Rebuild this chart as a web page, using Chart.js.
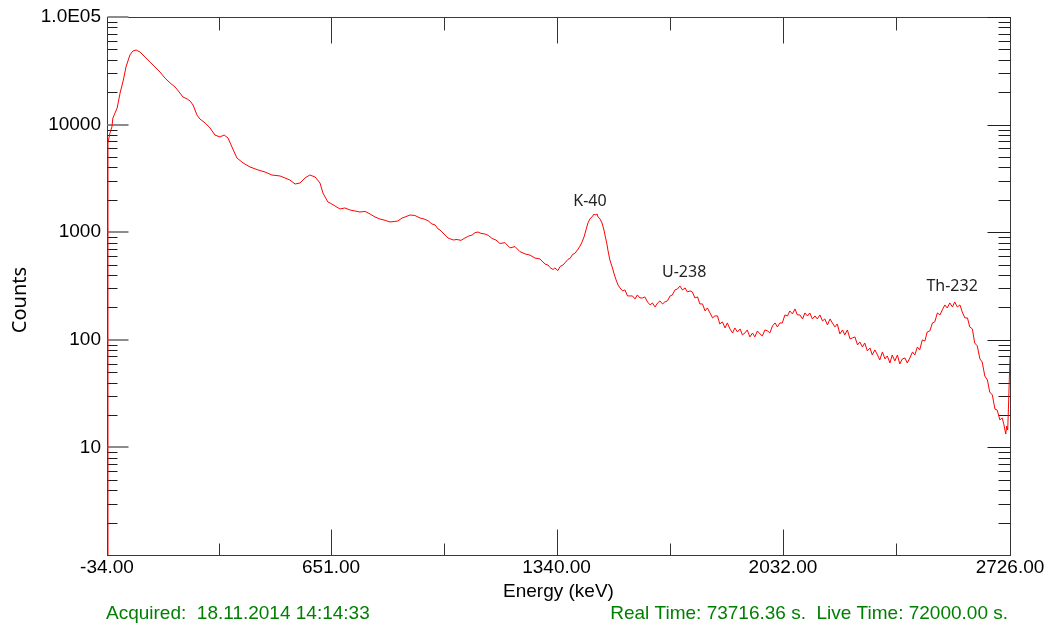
<!DOCTYPE html>
<html>
<head>
<meta charset="utf-8">
<title>Gamma spectrum</title>
<script src="https://cdn.jsdelivr.net/npm/chart.js@4.4.1/dist/chart.umd.min.js"></script>
<style>
  html, body { margin: 0; padding: 0; background: #ffffff; }
  #spectrum { display: block; }
</style>
</head>
<body>
<canvas id="spectrum" width="1055" height="631"></canvas>
<script>
// ===============================
// Spectrum data
// ===============================
const energyKeV = [
  // low energy rise and Compton continuum
  -32, -31, -25, -19, -16, -3, 6, 16, 24, 36,
  45, 55, 67, 82, 97, 113, 128, 143, 159, 174,
  189, 198, 211, 220, 229, 241, 250, 266, 281, 296,
  311, 324, 336, 348, 363, 382, 403, 428, 449, 470,
  495, 525, 541, 556, 571, 586, 602, 617, 626, 641,
  // 650 - 1530 keV (K-40 region)
  648, 663, 678, 693, 709, 724, 739, 755, 770, 785,
  800, 816, 831, 846, 855, 868, 877, 892, 907, 923,
  935, 947, 959, 969, 978, 984, 993, 999, 1008, 1014,
  1024, 1036, 1048, 1060, 1072, 1082, 1091, 1100, 1109, 1121,
  1131, 1143, 1155, 1167, 1182, 1198, 1213, 1228, 1244, 1259,
  1274, 1289, 1305, 1314, 1320, 1329, 1335, 1344, 1351, 1360,
  1366, 1375, 1381, 1390, 1396, 1406, 1412, 1418, 1424, 1430,
  1436, 1442, 1448, 1455, 1458, 1464, 1467, 1473, 1479, 1485,
  1488, 1494, 1497, 1503, 1510, 1516, 1522, 1528,
  // 1530 - 2726 keV (U-238 / Th-232 region, noisy)
  1534, 1542, 1549, 1557, 1565, 1572, 1580, 1587, 1595, 1603,
  1610, 1618, 1626, 1633, 1641, 1649, 1656, 1664, 1671, 1679,
  1687, 1694, 1702, 1710, 1717, 1725, 1733, 1740, 1748, 1755,
  1763, 1771, 1778, 1786, 1794, 1801, 1809, 1817, 1824, 1832,
  1839, 1847, 1855, 1862, 1870, 1878, 1885, 1893, 1901, 1908,
  1916, 1923, 1931, 1939, 1946, 1954, 1962, 1969, 1977, 1985,
  1992, 2000, 2008, 2015, 2023, 2030, 2038, 2046, 2053, 2061,
  2069, 2076, 2084, 2092, 2099, 2107, 2114, 2122, 2130, 2137,
  2145, 2153, 2160, 2168, 2176, 2183, 2191, 2198, 2206, 2214,
  2221, 2229, 2237, 2244, 2252, 2260, 2267, 2275, 2282, 2290,
  2298, 2305, 2313, 2321, 2328, 2336, 2344, 2351, 2359, 2366,
  2374, 2382, 2389, 2397, 2405, 2412, 2420, 2428, 2435, 2443,
  2450, 2458, 2466, 2473, 2481, 2489, 2496, 2504, 2512, 2519,
  2527, 2534, 2542, 2550, 2557, 2565, 2573, 2580, 2588, 2596,
  2603, 2611, 2618, 2626, 2634, 2641, 2649, 2657, 2664, 2672,
  2680, 2687, 2695, 2702, 2707, 2713, 2716, 2719, 2722, 2726
];

const counts = [
  0.5, 6740, 8360, 9510, 11510, 14260, 19670, 25960, 34300, 44350,
  48300, 49350, 47300, 42500, 38170, 34300, 30800, 27100, 24360, 22350,
  19670, 18060, 17300, 16570, 15210, 12270, 11270, 10350, 9300, 8000,
  7670, 8000, 7500, 6190, 4895, 4400, 4040, 3785, 3625, 3400,
  3330, 3055, 2805, 2865, 3190, 3400, 3260, 2865, 2315, 1910,

  1867, 1752, 1643, 1680, 1608, 1574, 1540, 1560, 1476, 1385,
  1326, 1290, 1245, 1260, 1271, 1355, 1385, 1445, 1430, 1355,
  1326, 1280, 1194, 1167, 1071, 1048, 983, 942, 883, 870,
  847, 855, 840, 883, 922, 942, 990, 1004, 975, 962,
  935, 875, 845, 785, 800, 715, 735, 660, 628, 612,
  575, 565, 505, 495, 470, 450, 465, 440, 480, 496,
  520, 560, 570, 625, 635, 698, 745, 811, 902, 1048,
  1218, 1326, 1385, 1476, 1445, 1476, 1385, 1326, 1218, 1048,
  942, 777, 683, 552, 475, 409, 360, 323.5,

  303.4, 284.5, 290.6, 255.6, 255.6, 255.6, 239.7, 261.2, 244.9, 244.9,
  250.2, 224.8, 210.9, 220.1, 202.0, 220.1, 229.7, 215.4, 224.8, 229.7,
  255.6, 261.2, 290.6, 296.9, 316.6, 290.6, 303.4, 278.5, 284.5, 278.5,
  244.9, 250.2, 215.4, 215.4, 185.4, 197.7, 177.7, 159.7, 166.6, 166.6,
  140.4, 146.6, 128.9, 143.5, 126.2, 115.8, 128.9, 118.3, 126.2, 111.0,
  115.8, 123.5, 106.3, 115.8, 106.3, 120.9, 113.4, 108.6, 123.5, 120.9,
  115.8, 134.5, 143.5, 131.7, 143.5, 143.5, 170.2, 166.6, 185.4, 173.9,
  193.6, 170.2, 170.2, 156.3, 177.7, 166.6, 177.7, 156.3, 166.6, 156.3,
  170.2, 149.7, 156.3, 137.5, 156.3, 143.5, 131.7, 140.4, 113.4, 123.5,
  111.0, 123.5, 101.9, 104.1, 106.3, 89.6, 95.5, 85.8, 93.5, 78.8,
  84.0, 72.3, 80.5, 72.3, 65.0, 77.1, 66.4, 70.8, 60.9, 72.3,
  63.6, 72.3, 59.6, 66.4, 67.8, 60.9, 67.8, 77.1, 72.3, 85.8,
  80.5, 99.7, 97.6, 118.3, 120.9, 143.5, 146.6, 177.7, 170.2, 189.5,
  210.9, 197.7, 220.1, 202.0, 224.8, 202.0, 210.9, 181.5, 159.7, 159.7,
  131.7, 126.2, 93.5, 87.7, 66.4, 62.2, 46.1, 42.3, 32.7, 30.7,
  22.7, 22.2, 18.0, 18.8, 16.5, 13.3, 15.8, 14.5, 27.6, 69.3
];

// Axis ticks
const xTickValues = [-34, 651, 1340, 2032, 2726];
const xMinorTickValues = [308, 996, 1686, 2379];
const yTickValues = [10, 100, 1000, 10000, 100000];
const yTickLabels = ["10", "100", "1000", "10000", "1.0E05"];
const yDecades = [1, 10, 100, 1000, 10000];

// Peak annotations (label position in data units)
const peakNames = ["K-40", "U-238", "Th-232"];
const peakLabelEnergies = [1442, 1730, 2549];
const peakLabelCounts = [1950, 427, 310];

// Footer texts
const acquiredText = "Acquired:  18.11.2014 14:14:33";
const timeText = "Real Time: 73716.36 s.  Live Time: 72000.00 s.";

const TICK_FONT = "'Liberation Sans', Arial, sans-serif";

// -------------------------------
// Frame with inward tick marks
// -------------------------------
const axisFrame = {
  id: "axisFrame",
  beforeDatasetsDraw(chart) {
    const { ctx, chartArea: a, scales: { x, y } } = chart;
    const left = Math.round(a.left) + 0.5;
    const right = Math.round(a.right) + 0.5;
    const top = Math.round(a.top) + 0.5;
    const bottom = Math.round(a.bottom) + 0.5;

    ctx.save();
    ctx.lineWidth = 1;
    ctx.strokeStyle = "#3a3a3a";
    ctx.strokeRect(left, top, right - left, bottom - top);

    const hLine = (x0, x1, py, color, width) => {
      ctx.beginPath();
      ctx.strokeStyle = color;
      ctx.lineWidth = width;
      ctx.moveTo(x0, py);
      ctx.lineTo(x1, py);
      ctx.stroke();
    };
    const vLine = (px, y0, y1, color) => {
      ctx.beginPath();
      ctx.strokeStyle = color;
      ctx.lineWidth = 1;
      ctx.moveTo(px, y0);
      ctx.lineTo(px, y1);
      ctx.stroke();
    };

    // y minor ticks (2..9 of each decade)
    yDecades.forEach(d => {
      for (let k = 2; k <= 9; k++) {
        const py = Math.round(y.getPixelForValue(d * k)) + 0.5;
        hLine(left, left + 10, py, "#1e1e1e", 1);
        hLine(right - 12, right, py, "#1e1e1e", 1);
      }
    });
    // y major ticks
    yTickValues.forEach(v => {
      const py = Math.round(y.getPixelForValue(v));
      hLine(left, left + 21, py, "#8c8c8c", 2);
      hLine(right - 23, right, py + 0.5, "#1e1e1e", 1);
    });

    // x ticks (bottom and top)
    xTickValues.forEach(v => {
      const px = Math.round(x.getPixelForValue(v)) + 0.5;
      vLine(px, bottom, bottom - 26, "#333333");
      vLine(px, top, top + 26, "#333333");
    });
    xMinorTickValues.forEach(v => {
      const px = Math.round(x.getPixelForValue(v)) + 0.5;
      vLine(px, bottom, bottom - 12, "#333333");
      vLine(px, top, top + 13, "#333333");
    });
    ctx.restore();
  }
};

// -------------------------------
// Peak labels, axis titles, footer
// -------------------------------
const textLayer = {
  id: "textLayer",
  afterDraw(chart) {
    const { ctx, chartArea: a, scales: { x, y } } = chart;
    ctx.save();

    // peak names
    ctx.font = "16px 'Noto Sans', 'Open Sans', sans-serif";
    ctx.fillStyle = "#222222";
    ctx.textAlign = "center";
    ctx.textBaseline = "middle";
    peakNames.forEach((name, i) => {
      ctx.fillText(name, x.getPixelForValue(peakLabelEnergies[i]), y.getPixelForValue(peakLabelCounts[i]));
    });

    // axis titles
    ctx.fillStyle = "#000000";
    ctx.font = "19px " + TICK_FONT;
    ctx.textBaseline = "alphabetic";
    ctx.fillText("Energy (keV)", (a.left + a.right) / 2, 597);

    ctx.save();
    ctx.translate(26, (a.top + a.bottom) / 2 + 14);
    ctx.rotate(-Math.PI / 2);
    ctx.font = "20px 'Noto Sans', sans-serif";
    ctx.fillText("Counts", 0, 0);
    ctx.restore();

    // footer
    ctx.fillStyle = "#008000";
    ctx.font = "19px " + TICK_FONT;
    ctx.textAlign = "left";
    ctx.fillText(acquiredText, 106, 619);
    ctx.textAlign = "right";
    ctx.fillText(timeText, 1008, 619);

    ctx.restore();
  }
};

// ===============================
// Chart
// ===============================
const canvas = document.getElementById("spectrum");

new Chart(canvas, {
  type: "line",
  data: {
    datasets: [
      {
        label: "Counts",
        data: energyKeV.map((e, i) => ({ x: e, y: counts[i] })),
        borderColor: "#ff0000",
        borderWidth: 1,
        pointRadius: 0,
        tension: 0,
        fill: false
      }
    ]
  },
  options: {
    responsive: false,
    animation: false,
    layout: { padding: { top: 17, right: 45, bottom: 0, left: 0 } },
    plugins: {
      legend: { display: false },
      tooltip: { enabled: false }
    },
    scales: {
      x: {
        type: "linear",
        min: -34,
        max: 2726,
        grid: { display: false, drawTicks: false },
        border: { display: false },
        afterBuildTicks: scale => {
          scale.ticks = xTickValues.map(v => ({ value: v }));
        },
        afterFit: scale => {
          scale.height = 76;
          scale.paddingLeft = 0;
          scale.paddingRight = 0;
        },
        ticks: {
          autoSkip: false,
          maxRotation: 0,
          padding: 1,
          color: "#000000",
          font: { family: TICK_FONT, size: 19 },
          callback: value => Number(value).toFixed(2)
        }
      },
      y: {
        type: "logarithmic",
        min: 1,
        max: 100000,
        grid: { display: false, drawTicks: false },
        border: { display: false },
        afterBuildTicks: scale => {
          scale.ticks = yTickValues.map(v => ({ value: v }));
        },
        afterFit: scale => {
          scale.width = 107;
          scale.paddingTop = 0;
          scale.paddingBottom = 0;
        },
        ticks: {
          autoSkip: false,
          padding: 6,
          color: "#000000",
          font: { family: TICK_FONT, size: 19 },
          callback: (value, index) => yTickLabels[index]
        }
      }
    }
  },
  plugins: [axisFrame, textLayer]
});
</script>
</body>
</html>
